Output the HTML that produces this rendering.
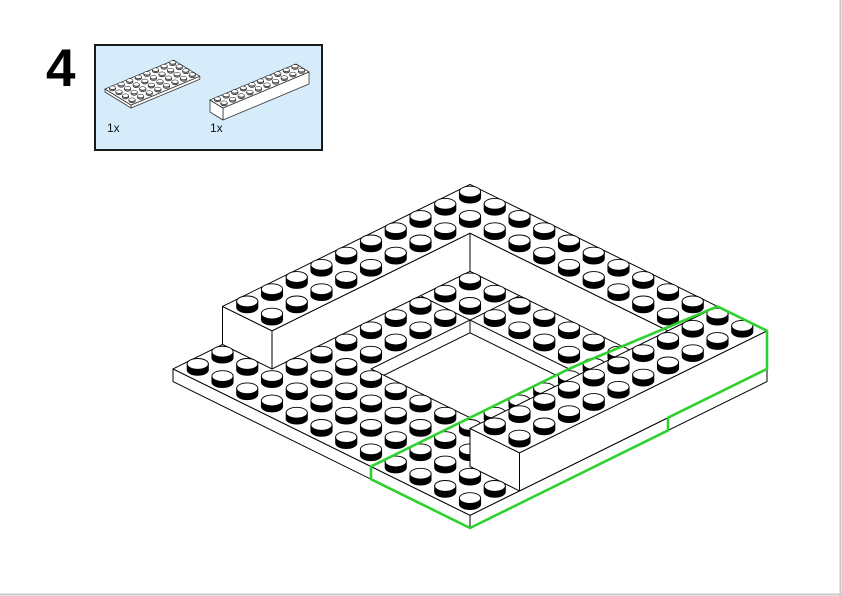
<!DOCTYPE html>
<html><head><meta charset="utf-8"><style>
html,body{margin:0;padding:0;background:#fff;}
#wrap{position:relative;width:842px;height:596px;overflow:hidden;background:#fff;}
svg{position:absolute;left:0;top:0;}
.num{position:absolute;left:46px;top:42px;font:bold 53px "Liberation Sans",sans-serif;color:#000;line-height:1;}
.lbl{position:absolute;font:12px "Liberation Sans",sans-serif;color:#111;}
</style></head><body>
<div id="wrap">
<svg id="s" width="842" height="596" viewBox="0 0 842 596"></svg>
<div class="num">4</div>
<div class="lbl" style="left:107px;top:121px;">1x</div>
<div class="lbl" style="left:210px;top:121px;">1x</div>
</div>
<script>
(function(){
var out=[];
var S=24.75,T=12.2,H=12.7;
function P(i,j,k){return [470+S*(i-j),528-T*(i+j)-H*k];}
function pts(a){return a.map(function(p){return p[0].toFixed(1)+','+p[1].toFixed(1);}).join(' ');}
function poly(a,fill,stroke,sw,extra){out.push('<polygon points="'+pts(a)+'" fill="'+fill+'" stroke="'+stroke+'" stroke-width="'+(sw||1)+'" stroke-linejoin="round" '+(extra||'')+'/>');}
function line(a,b,stroke,sw){out.push('<line x1="'+a[0].toFixed(1)+'" y1="'+a[1].toFixed(1)+'" x2="'+b[0].toFixed(1)+'" y2="'+b[1].toFixed(1)+'" stroke="'+(stroke||'#000')+'" stroke-width="'+(sw||1)+'"/>');}
function face(list){poly(list.map(function(q){return P(q[0],q[1],q[2]);}),'#fff','#000',1);}
function stud(cx,cy,rx,ry,h,sw,col){
  out.push('<path d="M'+(cx-rx)+','+(cy-h)+' L'+(cx-rx)+','+cy+' A'+rx+','+ry+' 0 0 0 '+(cx+rx)+','+cy+' L'+(cx+rx)+','+(cy-h)+' Z" fill="'+(col||'#000')+'" stroke="#000" stroke-width="'+sw+'"/>');
  out.push('<ellipse cx="'+cx+'" cy="'+(cy-h)+'" rx="'+rx+'" ry="'+ry+'" fill="#fff" stroke="#000" stroke-width="'+sw+'"/>');
}
function bigStud(i,j,k){var p=P(i,j,k);stud(p[0],p[1]+1,10.6,5.4,6,0.9);}

out.push('<line x1="840.5" y1="0" x2="840.5" y2="596" stroke="#c8c8c8" stroke-width="2"/>');
out.push('<line x1="0" y1="594.5" x2="842" y2="594.5" stroke="#c8c8c8" stroke-width="2"/>');

out.push('<rect x="95" y="45" width="227" height="105" fill="#d6ecfb" stroke="#1a1a1a" stroke-width="2"/>');
(function(){
  var ux=8.6,uy=-3.6,vx=-6.5,vy=-4;
  var ox=131,oy=108;
  function Q(i,j,k){return [ox+ux*i+vx*j, oy+uy*i+vy*j-3*k];}
  poly([Q(0,0,0),Q(8,0,0),Q(8,0,1),Q(0,0,1)],'#fff','#333',0.8);
  poly([Q(0,0,0),Q(0,4,0),Q(0,4,1),Q(0,0,1)],'#fff','#333',0.8);
  poly([Q(0,0,1),Q(8,0,1),Q(8,4,1),Q(0,4,1)],'#fff','#333',0.8);
  var arr=[];for(var i=0;i<8;i++)for(var j=0;j<4;j++)arr.push([i,j]);
  arr.sort(function(a,b){return (b[0]+b[1])-(a[0]+a[1]);});
  arr.forEach(function(c){var p=Q(c[0]+.5,c[1]+.5,1);stud(p[0],p[1],3.2,1.7,1.6,0.5,'#888');});
})();
(function(){
  var ux=8.6,uy=-3.6,vx=-6.5,vy=-4;
  var ox=223,oy=120;
  function Q(i,j,k){return [ox+ux*i+vx*j, oy+uy*i+vy*j-12*k];}
  poly([Q(0,0,0),Q(10,0,0),Q(10,0,1),Q(0,0,1)],'#fff','#333',0.8);
  poly([Q(0,0,0),Q(0,2,0),Q(0,2,1),Q(0,0,1)],'#fff','#333',0.8);
  poly([Q(0,0,1),Q(10,0,1),Q(10,2,1),Q(0,2,1)],'#fff','#333',0.8);
  var arr=[];for(var i=0;i<10;i++)for(var j=0;j<2;j++)arr.push([i,j]);
  arr.sort(function(a,b){return (b[0]+b[1])-(a[0]+a[1]);});
  arr.forEach(function(c){var p=Q(c[0]+.5,c[1]+.5,1);stud(p[0],p[1],3.2,1.7,1.6,0.5,'#888');});
})();

face([[0,0,0],[12,0,0],[12,0,1],[0,0,1]]);
face([[0,0,0],[0,12,0],[0,12,1],[0,0,1]]);
face([[0,0,1],[12,0,1],[12,12,1],[0,12,1]]);
line(P(8,8,1),P(10,8,1));
line(P(8,8,1),P(8,10,1));
var hole=[P(4,4,1),P(8,4,1),P(8,8,1),P(4,8,1)];
out.push('<clipPath id="hc"><polygon points="'+pts(hole)+'"/></clipPath>');
out.push('<g clip-path="url(#hc)">');
poly(hole,'#fff','none',0);
line(P(8,8,1),P(8,8,0));
line(P(8,8,0),P(8,3,0));
line(P(8,8,0),P(3,8,0));
out.push('</g>');
poly(hole,'none','#000',1);

face([[2,10,1],[2,12,1],[2,12,4],[2,10,4]]);
face([[2,10,1],[10,10,1],[10,10,4],[2,10,4]]);
face([[10,2,1],[10,10,1],[10,10,4],[10,2,4]]);
face([[2,10,4],[10,10,4],[10,2,4],[12,2,4],[12,12,4],[2,12,4]]);

var A=[],B=[];
for(var i=0;i<12;i++)for(var j=0;j<12;j++){
  if(i>=10)continue;
  if(i>=2&&(j<2||j>=10))continue;
  if(i>=4&&i<8&&j>=4&&j<8)continue;
  (i<2?B:A).push([i,j]);
}
function srt(a){a.sort(function(x,y){return (y[0]+y[1])-(x[0]+x[1]);});}
srt(A);srt(B);
A.forEach(function(c){bigStud(c[0]+.5,c[1]+.5,1);});

face([[2,0,1],[12,0,1],[12,0,4],[2,0,4]]);
face([[2,0,1],[2,2,1],[2,2,4],[2,0,4]]);
face([[2,0,4],[12,0,4],[12,2,4],[2,2,4]]);

B.forEach(function(c){bigStud(c[0]+.5,c[1]+.5,1);});

var C=[];
for(var i=0;i<12;i++)for(var j=0;j<12;j++){
  if(i>=10||(i>=2&&(j<2||j>=10)))C.push([i,j]);
}
srt(C);
C.forEach(function(c){bigStud(c[0]+.5,c[1]+.5,4);});

var g=[P(0,4,1),P(8,4,1),[580,364],P(12,2,4),P(12,0,4),P(12,0,1),P(8,0,1),P(8,0,0),P(0,0,0),P(0,4,0)];
out.push('<polygon points="'+pts(g)+'" fill="none" stroke="#2ed12e" stroke-width="2.6" stroke-linejoin="round"/>');

document.getElementById('s').innerHTML=out.join('');
})();
</script>
</body></html>
